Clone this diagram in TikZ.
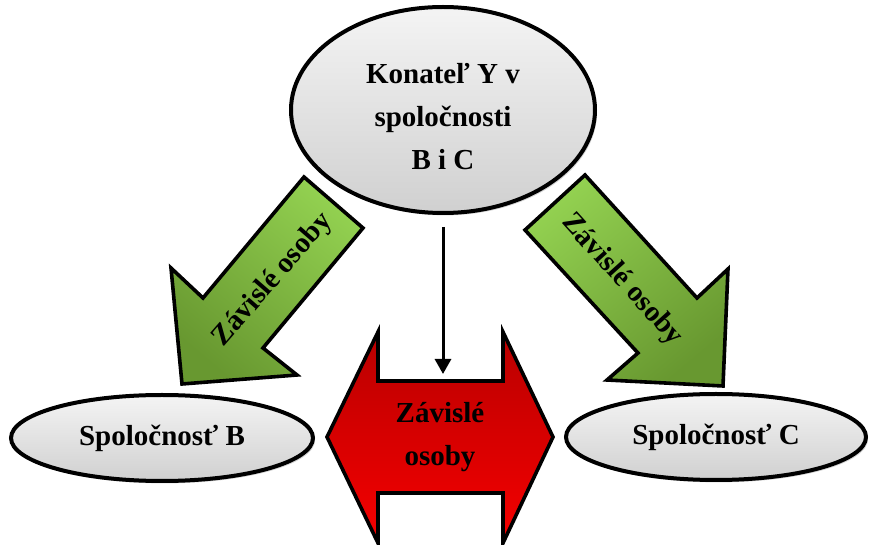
\documentclass[tikz,border=0pt]{standalone}
\usepackage{fontspec}
\setmainfont{Liberation Serif}
\usetikzlibrary{shapes.geometric,arrows.meta,shadows}
\definecolor{glight}{RGB}{146,208,80}
\definecolor{gdark}{RGB}{104,152,48}
\definecolor{rdark}{RGB}{185,0,0}
\definecolor{rlight}{RGB}{245,0,0}
\definecolor{ovtop}{RGB}{244,244,244}
\definecolor{ovbot}{RGB}{208,208,208}
\begin{document}
\begin{tikzpicture}[x=0.5pt,y=-0.5pt,
  oval/.style={ellipse, draw=black, line width=2pt, inner sep=0pt,
    top color=ovtop, bottom color=ovbot,
    drop shadow={shadow xshift=1pt, shadow yshift=-1.2pt, opacity=0.35}},
  lbl/.style={font=\bfseries\fontsize{14.5}{21.5}\selectfont, align=center, text=black},
  shapeline/.style={draw=black, line width=1.8pt, line join=miter},
  greenL/.style={shapeline, top color=glight, bottom color=gdark, shading angle=-40},
  greenR/.style={shapeline, top color=glight, bottom color=gdark, shading angle=40},
  redfill/.style={shapeline, top color=rdark, bottom color=rlight},
  conn/.style={draw=black, line width=1.5pt, -{Triangle[width=8pt,length=7.5pt]}}
]
\useasboundingbox (0,0) rectangle (869,545);

% green arrows
\draw[greenL] (304,177) -- (363,228) -- (263,348) -- (297,375) -- (182,384)
  -- (171,268) -- (203,298) -- cycle;
\draw[greenR] (585,175) -- (525,230) -- (638,353) -- (607,380) -- (723,386)
  -- (728,269) -- (697,298) -- cycle;

% red double arrow
\draw[redfill] (327,437) -- (378,332) -- (378,381) -- (503,381) -- (503,332)
  -- (553,437) -- (503,543) -- (503,493) -- (378,493) -- (378,543) -- cycle;

% ellipses
\node[oval, minimum width=152pt, minimum height=103pt] (top) at (443,110) {};
\node[lbl] (toptext) at (443,117) {Konateľ Y v\\spoločnosti\\B i C};
\node[oval, minimum width=151pt, minimum height=43pt, lbl] (B) at (162,438) {Spoločnosť B};
\node[oval, minimum width=150pt, minimum height=43pt, lbl] (C) at (716,437) {Spoločnosť C};

% arrow labels
\node[lbl, rotate=49] (lt) at (273,280) {Závislé osoby};
\node[lbl, rotate=-48] (rtx) at (622,280) {Závislé osoby};
\node[lbl] (mid) at (440,437) {Závislé\\osoby};

% vertical connector
\coordinate (vend) at (443,374);
\draw[conn, shorten <=6pt] (top.south) -- (vend);
\end{tikzpicture}
\end{document}
